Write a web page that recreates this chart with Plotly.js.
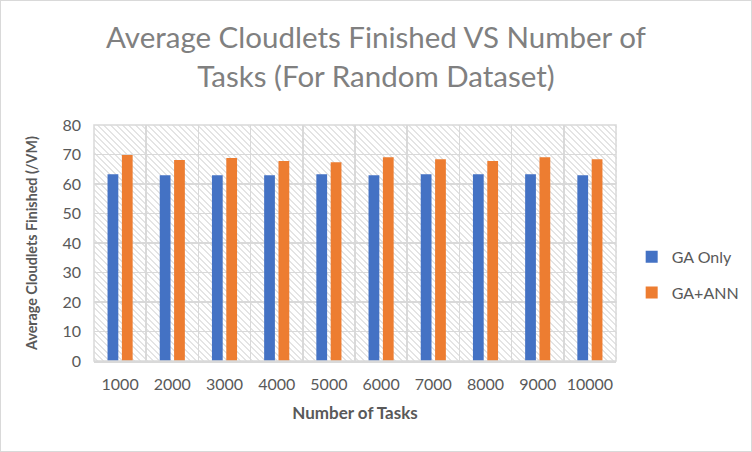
<!DOCTYPE html>
<html>
<head>
<meta charset="utf-8">
<script src="https://cdn.plot.ly/plotly-3.0.1.min.js"></script>
<style>
  html, body { margin: 0; padding: 0; background: #ffffff; }
  #wrap { position: relative; width: 752px; height: 452px; box-sizing: border-box; border: 1px solid #d9d9d9; overflow: hidden; }
  #hatch { position: absolute; left: 93px; top: 124px; width: 523px; height: 238px;
    background: repeating-linear-gradient(45deg, #ffffff 0px, #ffffff 3px, #e4e4e4 3px, #e4e4e4 4.4px); }
  #chart { position: absolute; left: -1px; top: -1px; width: 752px; height: 452px; }
</style>
</head>
<body>
<div id="wrap">
  <div id="hatch"></div>
  <div id="chart"></div>
</div>
<script>
const categories = ["1000", "2000", "3000", "4000", "5000", "6000", "7000", "8000", "9000", "10000"];
const gaOnly = [63.3, 63.0, 63.0, 63.0, 63.3, 63.0, 63.3, 63.3, 63.3, 63.0];
const gaAnn = [69.8, 68.1, 68.8, 67.8, 67.4, 69.1, 68.4, 67.8, 69.1, 68.4];
const yTicks = [0, 10, 20, 30, 40, 50, 60, 70, 80];

const font = "Lato, 'Open Sans', 'Liberation Sans', sans-serif";
const data = [
  { type: 'bar', name: 'GA Only', x: categories, y: gaOnly, marker: { color: '#4472c4' }, legendgroup: 'a' },
  { type: 'bar', name: 'GA+ANN', x: categories, y: gaAnn, marker: { color: '#ed7d31' }, legendgroup: 'b' }
];
const layout = {
  width: 752, height: 452,
  margin: { l: 94, r: 136, t: 125, b: 91, autoexpand: false },
  paper_bgcolor: 'rgba(0,0,0,0)', plot_bgcolor: 'rgba(0,0,0,0)',
  barmode: 'group', bargap: 0.45, bargroupgap: 0.25,
  font: { family: font, color: '#595959' },
  title: { text: 'Average Cloudlets Finished VS Number of<br>Tasks (For Random Dataset)',
           font: { size: 29.5, color: '#808080', family: font }, x: 0.5, xanchor: 'center',
           yref: 'container', y: 0.893, yanchor: 'top' },
  xaxis: { type: 'category', tickson: 'boundaries', showgrid: true, gridcolor: '#d9d9d9', gridwidth: 1.5,
           ticks: '', tickangle: 0, ticklabelstandoff: 8, tickfont: { size: 16, color: '#595959' },
           showline: true, linecolor: '#d9d9d9', linewidth: 1.5,
           title: { text: '<b>Number of Tasks</b>', font: { size: 17, color: '#595959' }, standoff: 15 }, automargin: false },
  yaxis: { range: [0, 80], tickvals: yTicks, showgrid: true, gridcolor: '#d9d9d9', gridwidth: 1.5, zeroline: false,
           ticks: '', ticklabelstandoff: 12, tickfont: { size: 16, color: '#595959' },
           title: { text: '<b>Average Cloudlets Finished (/VM)</b>', font: { size: 14.3, color: '#595959' }, standoff: 21 }, automargin: false },
  legend: { xref: 'container', yref: 'container', x: 0.84, y: 0.392, xanchor: 'left', yanchor: 'middle',
            font: { size: 16, color: '#595959' }, traceorder: 'grouped', tracegroupgap: 12, itemwidth: 30 },
  showlegend: true,
  shapes: [
    { type: 'rect', xref: 'paper', yref: 'paper', x0: 0, x1: 1, y0: 0, y1: 1, line: { color: '#d9d9d9', width: 1.5 } }
  ]
};
Plotly.newPlot('chart', data, layout, { displayModeBar: false, staticPlot: true });
</script>
</body>
</html>
